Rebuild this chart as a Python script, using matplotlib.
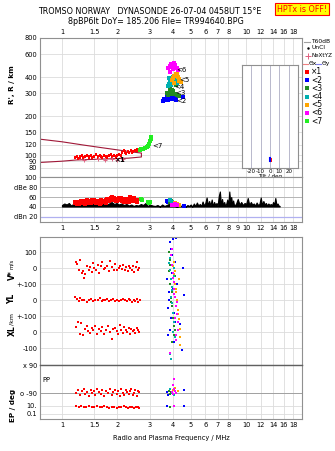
import matplotlib
matplotlib.use('Agg')
import matplotlib.pyplot as plt
from matplotlib.ticker import NullLocator

# ---- data -----------------------------------------------------------
freq_ticks = [1, 1.5, 2, 3, 4, 5, 6, 7, 8, 10, 12, 14, 16, 18]
freq_ticks_mid = [1, 1.5, 2, 3, 4, 5, 6, 7, 8, 9, 10, 12, 14, 16, 18]
height_ticks = [80, 90, 100, 120, 150, 200, 300, 400, 600, 800]

# trace 1 (red), virtual height
t1_f = [1.18, 1.20, 1.22, 1.25, 1.28, 1.30, 1.33, 1.36, 1.40, 1.43, 1.46, 1.50, 1.53,
        1.56, 1.60, 1.63, 1.66, 1.70, 1.73, 1.76, 1.80, 1.84, 1.88, 1.92, 1.96, 2.00,
        2.04, 2.08, 2.12, 2.16, 2.20, 2.24, 2.28, 2.32, 2.36, 2.40, 2.44, 2.48, 2.52,
        2.56, 2.60, 2.64]
t1_h = [95, 97, 94, 96, 98, 95, 97, 99, 96, 98, 95, 97, 100, 96, 98, 97, 95, 99, 97,
        96, 98, 100, 97, 99, 96, 98, 101, 99, 104, 107, 105, 103, 106, 104, 107, 105,
        106, 108, 107, 109, 108, 110]
t1_h2 = [97, 99, 96, 98, 100, 97, 99, 101, 98, 100, 97, 99, 102, 98, 100, 99, 97, 101,
         99, 98, 100, 102, 99, 101, 98, 100, 103, 101, 106, 109, 107, 105, 108, 106,
         109, 107, 108, 110, 109, 111, 110, 112]
nexyz_f = [1.32, 1.57, 1.71, 1.87, 2.00, 2.14]
nexyz_h = [92, 93, 92, 93, 92, 93]
t7_f = [2.65, 2.70, 2.76, 2.82, 2.88, 2.94, 2.98, 3.01, 3.03, 3.04]
t7_h = [110, 111, 112, 113, 115, 118, 123, 128, 133, 138]
model_f = [0.76, 1.0, 1.3, 1.6, 2.0, 2.4, 2.7, 2.7, 2.3, 1.9, 1.5, 1.2, 1.0, 0.76]
model_h = [133, 127, 120, 115, 110, 106, 104, 97, 95, 94, 93, 92, 90, 88]

height_f = {
    '2': [3.55, 3.60, 3.66, 3.72, 3.78, 3.84, 3.90, 3.96, 4.02, 4.10, 4.18, 3.70, 3.82, 3.94, 4.55],
    '3': [3.72, 3.78, 3.84, 3.90, 3.96, 4.02, 4.10, 4.20, 4.30, 3.76, 3.88, 4.00, 4.14],
    '4': [3.77, 3.82, 3.88, 3.94, 4.00, 4.06, 4.14, 4.20, 3.80, 3.92, 4.04],
    '5': [3.96, 4.02, 4.08, 4.16, 4.24, 4.34, 4.45, 4.05, 4.20, 4.30],
    '6': [3.77, 3.84, 3.90, 3.97, 4.04, 4.12, 4.20, 4.27, 3.88, 4.00, 4.10],
}
height_v = {
    '2': [262, 270, 265, 275, 268, 280, 272, 286, 278, 270, 265, 290, 294, 283, 279],
    '3': [300, 292, 310, 298, 320, 305, 296, 290, 286, 340, 330, 315, 345],
    '4': [340, 355, 370, 385, 400, 410, 390, 360, 395, 345, 372],
    '5': [380, 395, 410, 425, 400, 385, 365, 360, 420, 375],
    '6': [470, 490, 505, 480, 510, 495, 470, 450, 440, 460, 500],
}
tilt_x = [0, 0]
tilt_y = [0.07, 0.1]

# signal / noise levels (dB)
noise_f = [1.00, 1.03, 1.06, 1.09, 1.12, 1.15, 1.18, 1.21, 1.24, 1.27,
           1.30, 1.34, 1.38, 1.42, 1.46, 1.50, 1.55, 1.60, 1.65, 1.70,
           1.75, 1.80, 1.86, 1.92, 1.98, 2.04, 2.10, 2.17, 2.24, 2.31,
           2.38, 2.45, 2.52, 2.60, 2.68, 2.76, 2.84, 2.92, 3.00, 3.10,
           3.20, 3.30, 3.40, 3.50, 3.60, 3.70, 3.80, 3.90, 4.00, 4.10,
           4.20, 4.30, 4.40, 4.50, 4.60, 4.70, 4.80, 4.90, 5.00, 5.10,
           5.20, 5.30, 5.40, 5.50, 5.60, 5.70, 5.80, 5.90, 6.00, 6.10,
           6.20, 6.30, 6.40, 6.50, 6.60, 6.70, 6.80, 6.90, 7.00, 7.10,
           7.20, 7.30, 7.40, 7.50, 7.60, 7.70, 7.80, 7.90, 8.00, 8.10,
           8.20, 8.30, 8.40, 8.50, 8.60, 8.80, 9.00, 9.20, 9.40, 9.60,
           9.80, 10.0, 10.2, 10.4, 10.6, 10.8, 11.0, 11.2, 11.4, 11.6,
           11.8, 12.0, 12.2, 12.4, 12.6, 12.8, 13.0, 13.2, 13.4, 13.6,
           13.8, 14.0, 14.2, 14.4, 14.6, 14.8, 15.0, 15.2]
noise_db = [44, 47, 45, 48, 43, 46, 49, 44, 47, 45,
            48, 44, 46, 50, 45, 47, 44, 49, 46, 48,
            45, 47, 50, 46, 48, 45, 47, 44, 46, 43,
            45, 42, 44, 43, 46, 44, 48, 42, 45, 43,
            42, 44, 41, 45, 42, 44, 46, 43, 45, 42,
            41, 42, 43, 41, 42, 41, 44, 42, 45, 41,
            47, 42, 49, 43, 46, 42, 51, 43, 48, 59,
            44, 52, 43, 55, 42, 50, 44, 48, 43, 62,
            71, 45, 56, 43, 50, 42, 47, 55, 44, 71,
            49, 60, 44, 53, 43, 46, 56, 45, 50, 44,
            48, 46, 58, 44, 50, 45, 47, 43, 49, 44,
            46, 59, 44, 52, 45, 48, 43, 47, 44, 46,
            43, 50, 45, 58, 44, 47, 43, 42]
t1_db_f = [1.18, 1.21, 1.24, 1.27, 1.30, 1.33, 1.36, 1.40, 1.43, 1.46, 1.50, 1.53, 1.56,
           1.60, 1.63, 1.66, 1.70, 1.73, 1.76, 1.80, 1.84, 1.88, 1.92, 1.96, 2.00, 2.04,
           2.08, 2.12, 2.16, 2.20, 2.25, 2.30, 2.35, 2.40, 2.45, 2.50, 2.55]
t1_db = [48, 50, 47, 53, 49, 51, 54, 48, 52, 50, 55, 49, 53, 51, 48, 52, 50, 54, 56,
         53, 58, 60, 55, 57, 52, 59, 54, 56, 50, 53, 57, 51, 60, 55, 58, 52, 50]
t1_db2 = [51, 47, 50, 49, 52, 46, 50, 53, 49, 54, 51, 53, 50, 47, 54, 50, 53, 49, 52,
          57, 55, 56, 59, 53, 56, 55, 58, 52, 55, 57, 50, 55, 58, 52, 56, 54, 55]
t7_db_f = [2.68, 2.72, 2.92, 2.96, 3.00]
t7_db = [57, 55, 50, 49, 51]
db_f = {'2': [3.72, 3.76, 4.60], '3': [3.85, 3.90, 3.95], '4': [3.88, 3.95, 4.02],
        '5': [4.10, 4.20, 4.30], '6': [3.95, 4.00, 4.10, 4.20]}
db_v = {'2': [53, 51, 42], '3': [50, 53, 48], '4': [54, 50, 47],
        '5': [49, 46, 44], '6': [45, 44, 46, 43]}

# velocity and echolocation (V* offset 400, YL offset 200, XL offset 0)
drift_ticks = [-100, 0, 100, 200, 300, 400, 500]
drift_labels = ['-100', '0', '+-100', '0', '+-100', '0', '100']
vs_f = [1.19, 1.21, 1.23, 1.26, 1.28, 1.30, 1.32, 1.34, 1.37, 1.40, 1.42, 1.45, 1.48,
        1.50, 1.53, 1.56, 1.59, 1.62, 1.66, 1.69, 1.72, 1.75, 1.79, 1.83, 1.87, 1.91,
        1.95, 1.99, 2.03, 2.07, 2.11, 2.15, 2.19, 2.23, 2.27, 2.31, 2.35, 2.39, 2.43,
        2.47, 2.51, 2.55, 2.59, 2.63]
vs_v = [40, 25, -10, 50, -30, -20, -60, -40, 10, -15, 5, -25, 30, 0, -10, 20, -30, 10,
        35, -5, 0, 15, -20, 45, 5, -10, 25, -15, 0, 10, -5, 20, -10, 5, -20, 15, 0, -10,
        10, -25, 5, 40, -15, 0]
yl_f = [1.18, 1.20, 1.23, 1.26, 1.29, 1.32, 1.36, 1.40, 1.44, 1.48, 1.52, 1.56, 1.60,
        1.64, 1.68, 1.72, 1.76, 1.80, 1.85, 1.90, 1.95, 2.00, 2.05, 2.10, 2.15, 2.20,
        2.25, 2.30, 2.35, 2.40, 2.45, 2.50, 2.55, 2.60, 2.64]
yl_v = [220, 205, 195, 210, 198, 203, 190, 200, 207, 196, 202, 199, 212, 195, 203,
        198, 205, 192, 201, 208, 197, 203, 194, 200, 206, 199, 192, 204, 198, 190,
        202, 197, 205, 188, 200]
xl_f = [1.19, 1.22, 1.25, 1.27, 1.30, 1.33, 1.36, 1.39, 1.42, 1.45, 1.48, 1.52, 1.55,
        1.58, 1.62, 1.66, 1.70, 1.74, 1.78, 1.82, 1.86, 1.90, 1.94, 1.98, 2.02, 2.06,
        2.10, 2.14, 2.18, 2.22, 2.26, 2.30, 2.34, 2.38, 2.42, 2.46, 2.50, 2.54, 2.58,
        2.62]
xl_v = [30, 60, -10, 55, -20, 20, 40, 5, -5, 25, 10, 35, -15, 20, 5, 30, -10, 15, 40,
        0, -45, 20, 25, 5, -10, 45, 10, -5, 30, 15, 0, 25, -10, 20, 5, 15, -5, 25, 10,
        0]
drift_f = {
    '2': [3.72, 3.75, 3.80, 3.85, 3.90, 3.95, 4.00, 4.05, 4.10, 4.15, 4.20, 4.35, 4.55,
          3.78, 3.88, 3.98, 4.08, 4.48, 3.82, 3.92, 4.02, 4.12, 4.58],
    '3': [3.80, 3.84, 3.88, 3.92, 3.96, 4.00, 4.04, 4.08, 4.12, 3.86, 3.94, 4.02, 4.10,
          3.82, 3.90, 3.98],
    '4': [3.82, 3.86, 3.90, 3.94, 3.98, 4.02, 4.06, 4.10, 3.84, 3.92, 4.00, 4.08, 3.88,
          3.96, 4.04, 3.92],
    '5': [4.00, 4.05, 4.10, 4.15, 4.20, 4.25, 4.30, 4.35, 4.40, 4.08, 4.18, 4.28, 4.38,
          4.12, 4.22, 4.32],
    '6': [3.92, 3.96, 4.00, 4.04, 4.08, 4.12, 4.16, 4.20, 4.24, 4.28, 3.98, 4.06, 4.14,
          4.22, 4.02, 4.10, 4.18, 3.85],
}
drift_v = {
    '2': [330, -20, 250, 560, 520, 480, 580, 120, 440, 590, 300, 50, 400, 150, 10, 370,
          -60, -110, 200, 90, 270, 60, 230],
    '3': [380, 420, 300, 210, 160, 90, 40, -20, 350, 450, 250, 120, 10, 500, 190, -60],
    '4': [430, 390, 330, 260, 180, 120, 60, -30, 460, 220, 0, 350, -140, 280, 400, -170],
    '5': [410, 360, 300, 250, 190, 140, 80, 20, -30, 440, 270, 110, -80, 380, 200, 330],
    '6': [480, 420, 370, 310, 270, 220, 160, 110, 60, 10, 520, 240, -20, 190, 340, 90,
          -50, -130],
}

# polarisation (PP) and EP, in panel units
pp_ticks = [5, 13, 26, 54]
pp_labels = ['0.1', '10.', 'o -90', 'x 90']
pp_f = [1.19, 1.22, 1.25, 1.28, 1.31, 1.34, 1.37, 1.40, 1.43, 1.46, 1.49, 1.52, 1.55,
        1.58, 1.62, 1.66, 1.70, 1.74, 1.78, 1.82, 1.86, 1.90, 1.94, 1.98, 2.02, 2.06,
        2.10, 2.14, 2.18, 2.22, 2.26, 2.30, 2.34, 2.38, 2.42, 2.46, 2.50, 2.54, 2.58,
        2.62]
pp_v = [26, 29, 24, 28, 30, 25, 27, 23, 29, 26, 28, 24, 30, 27, 25, 29, 23, 28, 26,
        30, 24, 27, 29, 25, 28, 23, 30, 26, 24, 29, 27, 25, 28, 30, 24, 26, 29, 23, 28,
        27]
ep_f = [1.19, 1.23, 1.27, 1.31, 1.35, 1.40, 1.45, 1.50, 1.55, 1.60, 1.65, 1.70, 1.75,
        1.80, 1.86, 1.92, 1.98, 2.04, 2.10, 2.16, 2.22, 2.28, 2.34, 2.40, 2.46, 2.52,
        2.58, 2.63]
ep_v = [13, 12, 13, 12, 12, 13, 12, 12, 13, 12, 12, 13, 12, 11, 12, 12, 11, 12, 12,
        13, 12, 11, 12, 12, 11, 12, 12, 11]
pol_f = {'2': [3.72, 3.76, 4.60, 3.74, 4.58], '3': [3.80, 3.86, 3.92, 3.84],
         '4': [3.88, 3.96, 4.05, 3.90], '5': [4.02, 4.10, 4.18, 4.26, 4.08],
         '6': [3.95, 4.00, 4.05, 4.10, 4.15, 4.03, 4.05, 4.08]}
pol_v = {'2': [27, 24, 29, 13, 13], '3': [28, 25, 27, 12],
         '4': [30, 26, 24, 54], '5': [29, 31, 26, 28, 13],
         '6': [27, 25, 30, 28, 26, 34, 40, 13]}

colors = {'1': '#ff0000', '2': '#0000ff', '3': '#228b22', '4': '#00b0b0',
          '5': '#ffa500', '6': '#ff00ff', '7': '#22ee22'}
legend_marks = ['×1', '<2', '<3', '<4', '<5', '<6', '<7']

# ---- figure ---------------------------------------------------------
W, H = 335, 451
plt.rcParams['font.family'] = ['DejaVu Sans']
fig = plt.figure(figsize=(W / 100, H / 100), dpi=100)


def box(x0, y0, x1, y1):
    return [x0 / W, 1 - y1 / H, (x1 - x0) / W, (y1 - y0) / H]


grid_c = '#dcdcdc'
frame_c = '#909090'
fs = 4.8
ms = 1.9


def freq_axis(ax, labels, where):
    ax.set_xscale('log')
    ax.set_xlim(0.76, 20.1)
    ax.xaxis.set_minor_locator(NullLocator())
    ax.set_xticks(labels if where else freq_ticks)
    if where:
        ax.set_xticklabels([('%g' % v) for v in labels], fontsize=fs)
    else:
        ax.set_xticklabels([])
    ax.yaxis.set_minor_locator(NullLocator())
    ax.grid(True, color=grid_c, lw=0.6)
    ax.set_axisbelow(True)
    ax.tick_params(length=0, pad=2, labelsize=fs)
    for s in ax.spines.values():
        s.set_color(frame_c)
        s.set_linewidth(0.8)
    if where == 'top':
        ax.xaxis.tick_top()


# panel 1: virtual height
ax1 = fig.add_axes(box(40, 38, 302, 177))
ax1.set_yscale('log')
ax1.set_ylim(68, 800)
freq_axis(ax1, freq_ticks, 'top')
ax1.yaxis.set_minor_locator(NullLocator())
ax1.set_yticks(height_ticks)
ax1.set_yticklabels([str(v) for v in height_ticks], fontsize=fs)
ax1.plot(model_f, model_h, color='#a01838', lw=0.8)
ax1.plot(t1_f, t1_h, 's', color=colors['1'], ms=ms, mew=0)
ax1.plot(t1_f, t1_h2, 's', color=colors['1'], ms=ms, mew=0)
ax1.plot(nexyz_f, nexyz_h, '+', color='#e06080', ms=3, mew=0.7)
ax1.plot(t7_f, t7_h, 's', color=colors['7'], ms=ms + 0.3, mew=0)
for k in height_f:
    ax1.plot(height_f[k], height_v[k], 's', color=colors[k], ms=ms + 0.6, mew=0)
ax1.text(1.93, 92, '×1', fontsize=5, fontweight='bold', va='center')
ax1.text(3.08, 118, '<7', fontsize=5, va='center')
ax1.text(4.18, 455, '<6', fontsize=5, va='center')
ax1.text(4.32, 380, '<5', fontsize=5, va='center')
ax1.text(4.05, 335, '<4', fontsize=5, va='center')
ax1.text(4.12, 300, '<3', fontsize=5, va='center')
ax1.text(4.15, 262, '<2', fontsize=5, va='center')
fig.text(12 / W, 1 - 85 / H, "R', R / km", rotation=90, fontsize=5.2,
         fontweight='bold', ha='center', va='center')

# tilt inset
axt = fig.add_axes(box(242, 65, 298, 168))
axt.set_xlim(-30, 30)
axt.set_ylim(0, 1)
axt.set_xticks([-20, -10, 0, 10, 20])
axt.set_xticklabels(['-20', '-10', '0', '10', '20'], fontsize=4)
axt.set_yticks([])
axt.grid(True, axis='x', color='#b8b8cc', lw=0.7)
axt.tick_params(length=0, pad=1)
axt.set_xlabel('Tilt / deg', fontsize=4, labelpad=0)
for s in axt.spines.values():
    s.set_color(frame_c)
    s.set_linewidth(0.8)
axt.plot(tilt_x, tilt_y, color='#0000ff', lw=1.5)
axt.plot([v + 0.8 for v in tilt_x], tilt_y, color='#ff0000', lw=0.7)

# panel 2: signal levels
ax2 = fig.add_axes(box(40, 177, 302, 222))
ax2.set_ylim(10, 100)
freq_axis(ax2, freq_ticks_mid, 'bottom')
ax2.set_yticks([20, 40, 60, 80, 100])
ax2.set_yticklabels(['dBn 20', '40', '60', 'dBe 80', '100'], fontsize=fs)
ax2.grid(True, axis='y', color='#b4b4b4', lw=0.7)
ax2.axhline(20, color='#b0b0f0', lw=0.9)
ax2.fill_between(noise_f, 41, noise_db, color='k', lw=0.8)
ax2.plot(t1_db_f, t1_db, 's', color=colors['1'], ms=ms + 0.4, mew=0)
ax2.plot(t1_db_f, t1_db2, 's', color=colors['1'], ms=ms + 0.4, mew=0)
ax2.plot(t7_db_f, t7_db, 's', color=colors['7'], ms=ms + 1, mew=0)
for k in db_f:
    ax2.plot(db_f[k], db_v[k], 's', color=colors[k], ms=ms + 1, mew=0)

# panel 3: drift velocity and echolocation
ax3 = fig.add_axes(box(40, 237, 302, 365))
ax3.set_ylim(-206, 594)
freq_axis(ax3, freq_ticks, None)
ax3.set_yticks(drift_ticks)
ax3.set_yticklabels(drift_labels, fontsize=fs)
ax3.plot(vs_f, [v + 400 for v in vs_v], 's', color=colors['1'], ms=ms, mew=0)
ax3.plot(yl_f, yl_v, 's', color=colors['1'], ms=ms, mew=0)
ax3.plot(xl_f, xl_v, 's', color=colors['1'], ms=ms, mew=0)
for k in drift_f:
    ax3.plot(drift_f[k], drift_v[k], 's', color=colors[k], ms=ms, mew=0)
fig.text(12 / W, 1 - 275 / H, 'V*', rotation=90, fontsize=5.5, fontweight='bold',
         ha='center', va='center')
fig.text(12 / W, 1 - 264 / H, 'm/s', rotation=90, fontsize=4,
         ha='center', va='center')
fig.text(12 / W, 1 - 299 / H, 'YL', rotation=90, fontsize=5.5, fontweight='bold',
         ha='center', va='center')
fig.text(12 / W, 1 - 319 / H, '/km', rotation=90, fontsize=4.5,
         ha='center', va='center')
fig.text(12 / W, 1 - 331 / H, 'XL', rotation=90, fontsize=5.5, fontweight='bold',
         ha='center', va='center')

# panel 4: polarisation
ax4 = fig.add_axes(box(40, 365, 302, 419))
ax4.set_ylim(0, 54)
freq_axis(ax4, freq_ticks, 'bottom')
ax4.set_yticks(pp_ticks)
ax4.set_yticklabels(pp_labels, fontsize=fs)
ax4.spines['top'].set_color('#606060')
ax4.spines['top'].set_linewidth(1.0)
ax4.axhline(26, color='#a0a0a0', lw=0.7)
ax4.plot(pp_f, pp_v, 's', color=colors['1'], ms=ms, mew=0)
ax4.plot(ep_f, ep_v, 's', color=colors['1'], ms=ms, mew=0)
for k in pol_f:
    ax4.plot(pol_f[k], pol_v[k], 's', color=colors[k], ms=ms, mew=0)
fig.text(42 / W, 1 - 380 / H, 'PP', fontsize=fs, ha='left', va='center')
fig.text(13 / W, 1 - 405 / H, 'EP / deg', rotation=90, fontsize=5.2,
         fontweight='bold', ha='center', va='center')
ax4.set_xlabel('Radio and Plasma Frequency / MHz', fontsize=4.8, labelpad=5)

# legend column
axl = fig.add_axes(box(302, 36, 335, 126))
axl.set_xlim(302, 335)
axl.set_ylim(126, 36)
axl.axis('off')
axl.plot([304, 310], [42, 42], color='#a0a0a0', lw=0.8)
axl.text(311, 42, 'T60dB', fontsize=4.3, va='center')
axl.plot([308], [48], '.', color='k', ms=1.5)
axl.text(311, 48, 'UnCl', fontsize=4.3, va='center')
axl.plot([308], [56], '+', color='#e06080', ms=4, mew=0.7)
axl.text(311, 56, 'NeXtYZ', fontsize=4.1, va='center')
axl.plot([303, 308], [64, 64], color='#f08080', lw=0.8)
axl.text(308.5, 64, 'Θx', fontsize=4.3, va='center')
axl.plot([316, 321], [64, 64], color='#8080f0', lw=0.8)
axl.text(321.5, 64, 'Θy', fontsize=4.3, va='center')
for i, k in enumerate(['1', '2', '3', '4', '5', '6', '7']):
    y = 72 + i * 8.2
    axl.plot([307], [y], 's', color=colors[k], ms=2.6, mew=0)
    axl.text(311, y, legend_marks[i], fontsize=5.5, va='center')

# titles
fig.text(150 / W, 1 - 12 / H, 'TROMSO NORWAY   DYNASONDE 26-07-04 0458UT 15°E',
         fontsize=5.8, ha='center', va='center')
fig.text(156 / W, 1 - 21 / H, '8pBP6It DoY= 185.206 File= TR994640.BPG',
         fontsize=5.8, ha='center', va='center')
fig.text(302 / W, 1 - 9 / H, 'HPTx is OFF!', fontsize=5.8, color='#ff0000',
         ha='center', va='center',
         bbox=dict(boxstyle='square,pad=0.2', fc='#ffff00', ec='#ff0000', lw=0.8))

fig.savefig('out.png', dpi=100)
plt.close(fig)
